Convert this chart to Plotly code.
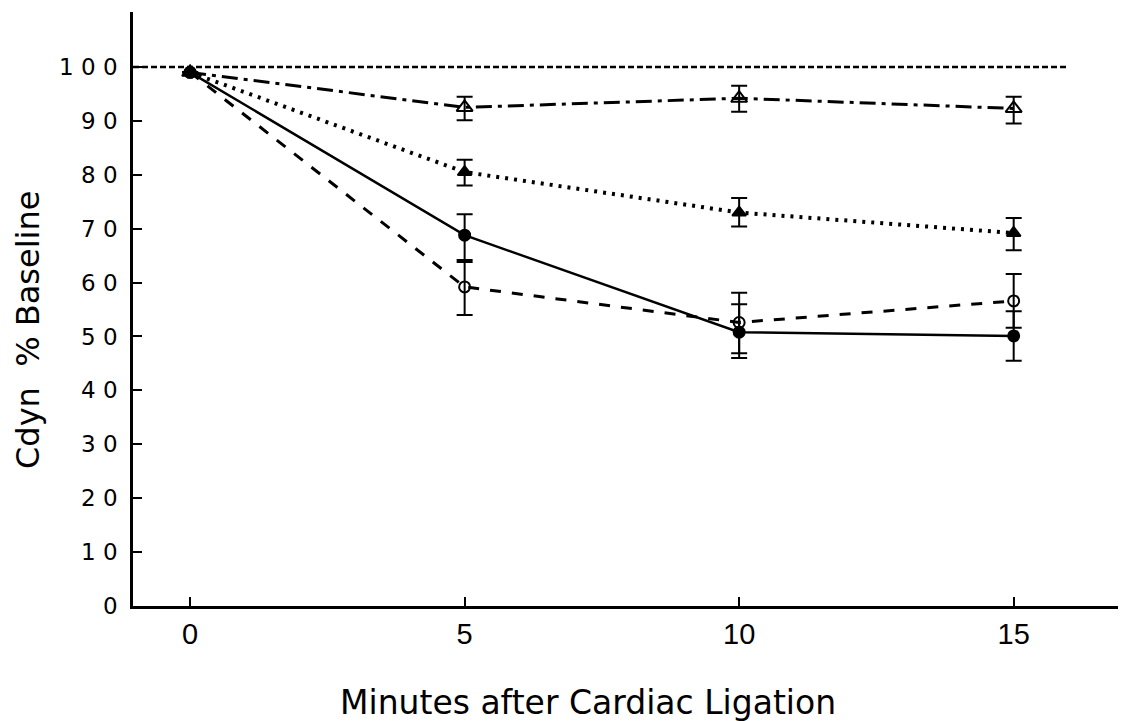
import plotly.graph_objects as go

minutes = [0, 5, 10, 15]

# open triangle, dash-dot
tri_open = [99, 92.5, 94.2, 92.3]
tri_open_hi = [0, 2.0, 2.3, 2.2]
tri_open_lo = [0, 2.4, 2.5, 2.8]

# filled triangle, dotted
tri_fill = [99, 80.5, 73.0, 69.2]
tri_fill_hi = [0, 2.3, 2.7, 2.8]
tri_fill_lo = [0, 2.5, 2.6, 3.2]

# filled circle, solid
circ_fill = [99, 68.8, 50.8, 50.1]
circ_fill_hi = [0, 3.9, 5.2, 4.6]
circ_fill_lo = [0, 4.6, 3.9, 4.6]

# open circle, dashed
circ_open = [99, 59.2, 52.6, 56.6]
circ_open_hi = [0, 4.6, 5.5, 5.0]
circ_open_lo = [0, 5.2, 6.6, 5.0]

baseline_x = [-1.04, 16.0]
baseline_y = [100, 100]

yticks = [0, 10, 20, 30, 40, 50, 60, 70, 80, 90, 100]
ytick_text = ["0", "1 0", "2 0", "3 0", "4 0", "5 0", "6 0", "7 0", "8 0", "9 0", "1 0 0"]
xticks = [0, 5, 10, 15]
xtick_text = ["0", "5", "10", "15"]

x_title = "Minutes after Cardiac Ligation"
y_title = "Cdyn\u00a0\u00a0%\u00a0Baseline"

fig = go.Figure()

fig.add_trace(go.Scatter(x=baseline_x, y=baseline_y, mode="lines",
                         line=dict(color="black", width=2.5, dash="6px,3px"),
                         showlegend=False, hoverinfo="skip"))

def add_series(y, hi, lo, dash, symbol, size, width):
    fig.add_trace(go.Scatter(
        x=minutes, y=y, mode="lines+markers",
        line=dict(color="black", width=width, dash=dash),
        marker=dict(symbol=symbol, size=size, color="black",
                    line=dict(color="black", width=2)),
        error_y=dict(type="data", symmetric=False, array=hi, arrayminus=lo,
                     color="black", thickness=2, width=8),
        showlegend=False))

add_series(circ_open, circ_open_hi, circ_open_lo, "11px,11px", "circle-open", 11, 3)
add_series(circ_fill, circ_fill_hi, circ_fill_lo, "solid", "circle", 11, 2.4)
add_series(tri_fill, tri_fill_hi, tri_fill_lo, "3px,6px", "triangle-up", 12, 4)
add_series(tri_open, tri_open_hi, tri_open_lo, "16px,6px,4px,6px", "triangle-up-open", 14, 3)

fig.update_layout(
    width=1122, height=721,
    margin=dict(l=133, r=4, t=12, b=115),
    paper_bgcolor="white", plot_bgcolor="white",
    font=dict(family="DejaVu Sans, Liberation Sans, sans-serif", color="black"),
    xaxis=dict(range=[-1.04, 16.9], tickvals=xticks, ticktext=xtick_text,
               ticks="inside", ticklen=9, tickwidth=1.5, tickcolor="black",
               showline=True, linecolor="black", linewidth=2.5,
               showgrid=False, zeroline=False, ticklabelstandoff=0,
               tickfont=dict(size=29, family="Liberation Sans Narrow, Liberation Sans, sans-serif")),
    yaxis=dict(range=[0, 110.2], tickvals=yticks, ticktext=ytick_text,
               ticks="inside", ticklen=9, tickwidth=1.5, tickcolor="black",
               showline=True, linecolor="black", linewidth=2.5,
               showgrid=False, zeroline=False, ticklabelstandoff=8,
               tickfont=dict(size=23, family="DejaVu Sans, sans-serif")),
    annotations=[
        dict(text=x_title, xref="paper", yref="paper", x=0.462, y=-0.163,
             xanchor="center", yanchor="middle", showarrow=False,
             font=dict(size=33, family="DejaVu Sans, sans-serif")),
        dict(text=y_title, xref="paper", yref="paper", x=-0.1066, y=0.4646,
             xanchor="center", yanchor="middle", showarrow=False, textangle=-90,
             font=dict(size=32, family="DejaVu Sans, sans-serif")),
    ],
)

fig.write_html("out.html")
